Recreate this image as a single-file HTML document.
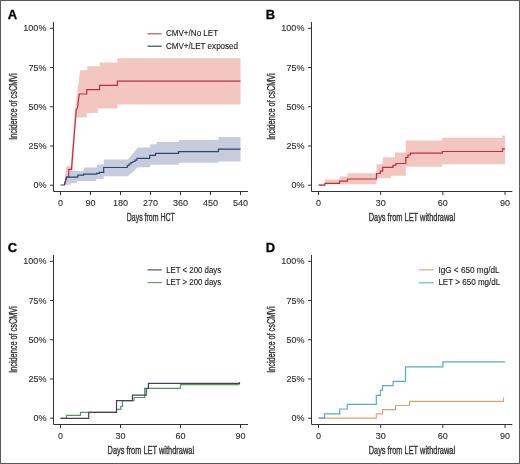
<!DOCTYPE html>
<html><head><meta charset="utf-8"><style>
html,body{margin:0;padding:0;background:#fff;}
body{width:520px;height:464px;overflow:hidden;position:relative;}
svg{position:absolute;left:0;top:0;display:block;will-change:transform;}
.ax{stroke:#333;stroke-width:1;fill:none;}
text{font-family:"Liberation Sans",sans-serif;}
.tick{font-size:9px;fill:#2a2a2a;stroke:#2a2a2a;stroke-width:0.1px;}
.leg{font-size:8.5px;fill:#1a1a1a;stroke:#1a1a1a;stroke-width:0.12px;}
.ttl{font-size:10px;fill:#333;stroke:#333;stroke-width:0.35px;}
.let{font-size:13px;font-weight:bold;fill:#000;stroke:#000;stroke-width:0.3px;}
</style></head><body>
<svg width="520" height="464" viewBox="0 0 520 464">
<rect x="0" y="0" width="520" height="464" fill="#fff"/>
<text x="7.7" y="18.8" class="let">A</text>
<path d="M53.5,22 V191.5 H248" class="ax"/>
<path d="M50,185.20 H53.5" class="ax"/>
<text x="46.4" y="188.20" class="tick" text-anchor="end">0%</text>
<path d="M50,145.98 H53.5" class="ax"/>
<text x="46.4" y="148.98" class="tick" text-anchor="end">25%</text>
<path d="M50,106.76 H53.5" class="ax"/>
<text x="46.4" y="109.76" class="tick" text-anchor="end">50%</text>
<path d="M50,67.54 H53.5" class="ax"/>
<text x="46.4" y="70.54" class="tick" text-anchor="end">75%</text>
<path d="M50,28.32 H53.5" class="ax"/>
<text x="46.4" y="31.32" class="tick" text-anchor="end">100%</text>
<path d="M60.50,191 V195" class="ax"/>
<text x="60.50" y="205.6" class="tick" text-anchor="middle">0</text>
<path d="M90.50,191 V195" class="ax"/>
<text x="90.50" y="205.6" class="tick" text-anchor="middle">90</text>
<path d="M120.50,191 V195" class="ax"/>
<text x="120.50" y="205.6" class="tick" text-anchor="middle">180</text>
<path d="M150.50,191 V195" class="ax"/>
<text x="150.50" y="205.6" class="tick" text-anchor="middle">270</text>
<path d="M180.50,191 V195" class="ax"/>
<text x="180.50" y="205.6" class="tick" text-anchor="middle">360</text>
<path d="M210.50,191 V195" class="ax"/>
<text x="210.50" y="205.6" class="tick" text-anchor="middle">450</text>
<path d="M240.50,191 V195" class="ax"/>
<text x="240.50" y="205.6" class="tick" text-anchor="middle">540</text>
<text x="150.8" y="220.5" class="ttl" text-anchor="middle" textLength="48" lengthAdjust="spacingAndGlyphs">Days from HCT</text>
<text transform="translate(16.5,106.6) rotate(-90)" x="0" y="0" class="ttl" text-anchor="middle" textLength="66.5" lengthAdjust="spacingAndGlyphs">Incidence of csCMVi</text>

<path d="M64.5,185 L66,166.5 H70.6 L73.2,135 L73.8,122 L74.8,111.2 L77,94.3 L80.2,70.2 H87.3 V66.3 H99.6 V62.4 H117.4 V58.2 H240.5 V104.5 H117.4 V108.5 H97.7 V112.9 H86.7 V117.5 H76 L74.8,135 L72.8,166 L71,185 Z" fill="#f3c6bf"/>
<path d="M64.3,185 L66.7,171 H83.6 V167.5 H97 V164.6 H103.7 V159.4 H127.8 L138,147.6 H150.2 V144.2 H156.5 V142.1 H179 V140.1 H218.5 V137 H240.5 V161.6 H218.5 V162.7 H179 V164.8 H150 V167.3 H138 L127.8,176.3 H103.7 V179 H96 V181 H76.8 V182.9 H67 Z" fill="#c6cbdd"/>
<path d="M64.5,185 L66.4,177 H68.7 V169.3 H71.5 L75,125 L76.3,110 L77.6,107.4 L78.9,96.2 L79.5,94 H86.7 V89.6 H99.6 V85.4 H117.4 V81.2 H240.5" stroke="#bd2f40" stroke-width="1.2" fill="none"/>
<path d="M60.5,185 H64.3 L66.7,177.1 H77.8 V175.2 H83.6 V174.2 H96.5 V173.3 H99.4 V172.3 H103.7 V167.5 H127.3 V165.5 H129 V164 H131 V162.5 H133 V161.5 H135 V160.2 H137 V158.3 H149.7 V155.4 H155.5 V153.3 H178.5 V151.6 H218.5 V149.2 H240.5" stroke="#2d4670" stroke-width="1.2" fill="none"/>

<path d="M147.5,33.8 H161.7" stroke="#b04a58" stroke-width="1.1" fill="none"/>
<text x="165.9" y="36.3" class="leg" textLength="52.3" lengthAdjust="spacingAndGlyphs">CMV+/No LET</text>
<path d="M147.5,46.2 H161.7" stroke="#283c5c" stroke-width="1.1" fill="none"/>
<text x="165.9" y="48.5" class="leg" textLength="72.2" lengthAdjust="spacingAndGlyphs">CMV+/LET exposed</text>
<text x="265.7" y="18.8" class="let">B</text>
<path d="M311.5,22 V191.5 H512.3" class="ax"/>
<path d="M308,185.20 H311.5" class="ax"/>
<text x="304.4" y="188.20" class="tick" text-anchor="end">0%</text>
<path d="M308,145.98 H311.5" class="ax"/>
<text x="304.4" y="148.98" class="tick" text-anchor="end">25%</text>
<path d="M308,106.76 H311.5" class="ax"/>
<text x="304.4" y="109.76" class="tick" text-anchor="end">50%</text>
<path d="M308,67.54 H311.5" class="ax"/>
<text x="304.4" y="70.54" class="tick" text-anchor="end">75%</text>
<path d="M308,28.32 H311.5" class="ax"/>
<text x="304.4" y="31.32" class="tick" text-anchor="end">100%</text>
<path d="M318.50,191 V195" class="ax"/>
<text x="318.50" y="205.6" class="tick" text-anchor="middle">0</text>
<path d="M380.67,191 V195" class="ax"/>
<text x="380.67" y="205.6" class="tick" text-anchor="middle">30</text>
<path d="M442.83,191 V195" class="ax"/>
<text x="442.83" y="205.6" class="tick" text-anchor="middle">60</text>
<path d="M505.00,191 V195" class="ax"/>
<text x="505.00" y="205.6" class="tick" text-anchor="middle">90</text>
<text x="411.9" y="220.5" class="ttl" text-anchor="middle" textLength="86.5" lengthAdjust="spacingAndGlyphs">Days from LET withdrawal</text>
<text transform="translate(274.5,106.6) rotate(-90)" x="0" y="0" class="ttl" text-anchor="middle" textLength="66.5" lengthAdjust="spacingAndGlyphs">Incidence of csCMVi</text>

<path d="M318.5,185.7 H324.9 V179.6 H339.5 V176.5 H347.6 V173.2 H376.5 V164.2 H382.7 V157.3 H395 V152.4 H405.8 V140.4 H442.3 V137.8 H502.3 V135.6 H505 V164.3 H442.3 V166.7 H405.8 V175.8 H391 V178 H376.5 V184.2 H318.5 Z" fill="#f3c6bf"/>
<path d="M318.5,185.2 H324.9 V183.3 H339.5 V181.2 H347.5 V179 H376.5 V173.5 H380.4 V171.2 H382.7 V167.3 H393 V165.3 H395.8 V163.5 H405.8 V157.3 H408 V155 H410.4 V153.2 H442.3 V151.5 H502.5 V148.8 H505" stroke="#bd2f40" stroke-width="1.2" fill="none"/>

<text x="7.7" y="251.8" class="let">C</text>
<path d="M53.5,255 V424.5 H248" class="ax"/>
<path d="M50,418.20 H53.5" class="ax"/>
<text x="46.4" y="421.20" class="tick" text-anchor="end">0%</text>
<path d="M50,378.98 H53.5" class="ax"/>
<text x="46.4" y="381.98" class="tick" text-anchor="end">25%</text>
<path d="M50,339.76 H53.5" class="ax"/>
<text x="46.4" y="342.76" class="tick" text-anchor="end">50%</text>
<path d="M50,300.54 H53.5" class="ax"/>
<text x="46.4" y="303.54" class="tick" text-anchor="end">75%</text>
<path d="M50,261.32 H53.5" class="ax"/>
<text x="46.4" y="264.32" class="tick" text-anchor="end">100%</text>
<path d="M60.50,424 V428" class="ax"/>
<text x="60.50" y="438.6" class="tick" text-anchor="middle">0</text>
<path d="M120.50,424 V428" class="ax"/>
<text x="120.50" y="438.6" class="tick" text-anchor="middle">30</text>
<path d="M180.50,424 V428" class="ax"/>
<text x="180.50" y="438.6" class="tick" text-anchor="middle">60</text>
<path d="M240.50,424 V428" class="ax"/>
<text x="240.50" y="438.6" class="tick" text-anchor="middle">90</text>
<text x="150.8" y="453.5" class="ttl" text-anchor="middle" textLength="86.5" lengthAdjust="spacingAndGlyphs">Days from LET withdrawal</text>
<text transform="translate(16.5,339.6) rotate(-90)" x="0" y="0" class="ttl" text-anchor="middle" textLength="66.5" lengthAdjust="spacingAndGlyphs">Incidence of csCMVi</text>

<path d="M60.5,418.3 H66.4 V415.4 H80.5 V412.3 H116.5 V409.3 H120.8 V406.3 H122.5 V400.7 H134.1 V397.5 H144.7 V388.3 H180.5 V384.7 H239 V382.5" stroke="#4f9d5c" stroke-width="1.2" fill="none"/>
<path d="M60.5,418.3 H88.7 V412.3 H116.5 V400.7 H132.4 V395.1 H146.2 V388.5 H148.4 V383.3 H239.5 V382.3" stroke="#4b3d60" stroke-width="1.2" fill="none"/>

<path d="M147.5,269.9 H161.8" stroke="#4b3d60" stroke-width="1.1" fill="none"/>
<text x="166.2" y="272.6" class="leg" textLength="55" lengthAdjust="spacingAndGlyphs">LET &lt; 200 days</text>
<path d="M147.5,282.6 H161.8" stroke="#4f9d5c" stroke-width="1.1" fill="none"/>
<text x="166.2" y="285.2" class="leg" textLength="55" lengthAdjust="spacingAndGlyphs">LET &gt; 200 days</text>
<text x="265.7" y="251.8" class="let">D</text>
<path d="M311.5,255 V424.5 H512.3" class="ax"/>
<path d="M308,418.20 H311.5" class="ax"/>
<text x="304.4" y="421.20" class="tick" text-anchor="end">0%</text>
<path d="M308,378.98 H311.5" class="ax"/>
<text x="304.4" y="381.98" class="tick" text-anchor="end">25%</text>
<path d="M308,339.76 H311.5" class="ax"/>
<text x="304.4" y="342.76" class="tick" text-anchor="end">50%</text>
<path d="M308,300.54 H311.5" class="ax"/>
<text x="304.4" y="303.54" class="tick" text-anchor="end">75%</text>
<path d="M308,261.32 H311.5" class="ax"/>
<text x="304.4" y="264.32" class="tick" text-anchor="end">100%</text>
<path d="M318.50,424 V428" class="ax"/>
<text x="318.50" y="438.6" class="tick" text-anchor="middle">0</text>
<path d="M380.67,424 V428" class="ax"/>
<text x="380.67" y="438.6" class="tick" text-anchor="middle">30</text>
<path d="M442.83,424 V428" class="ax"/>
<text x="442.83" y="438.6" class="tick" text-anchor="middle">60</text>
<path d="M505.00,424 V428" class="ax"/>
<text x="505.00" y="438.6" class="tick" text-anchor="middle">90</text>
<text x="411.9" y="453.5" class="ttl" text-anchor="middle" textLength="86.5" lengthAdjust="spacingAndGlyphs">Days from LET withdrawal</text>
<text transform="translate(274.5,339.6) rotate(-90)" x="0" y="0" class="ttl" text-anchor="middle" textLength="66.5" lengthAdjust="spacingAndGlyphs">Incidence of csCMVi</text>

<path d="M318.5,418.2 H376.3 V413.9 H382.6 V409.6 H395.6 V405.5 H409.6 V401.3 H503.5 V397.4" stroke="#dea46e" stroke-width="1.2" fill="none"/>
<path d="M318.5,418.2 H324.5 V413.8 H339.7 V409 H347.3 V404.4 H376.3 V395.3 H380.5 V390.1 H382.6 V385.6 H393.1 V381.3 H405.5 V366.9 H442.9 V361.9 H505" stroke="#52acd4" stroke-width="1.2" fill="none"/>

<path d="M418.8,269.9 H433.8" stroke="#dea46e" stroke-width="1.1" fill="none"/>
<text x="438.4" y="272.7" class="leg" textLength="61.2" lengthAdjust="spacingAndGlyphs">IgG &lt; 650 mg/dL</text>
<path d="M418.8,282.8 H433.8" stroke="#52acd4" stroke-width="1.1" fill="none"/>
<text x="438.4" y="285.3" class="leg" textLength="61.9" lengthAdjust="spacingAndGlyphs">LET &gt; 650 mg/dL</text>
<rect x="0.5" y="0.5" width="519" height="463" fill="none" stroke="#5a5a5a" stroke-width="1"/>
</svg>
</body></html>
